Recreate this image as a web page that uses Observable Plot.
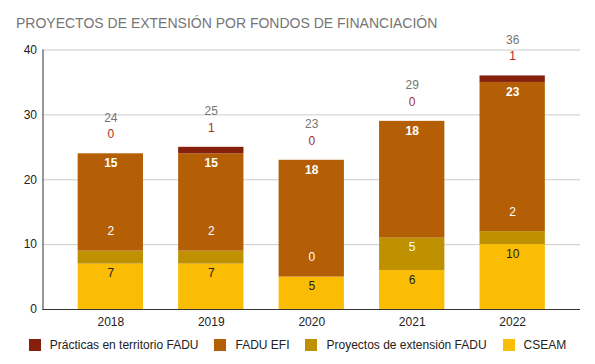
<!DOCTYPE html>
<html>
<head>
<meta charset="utf-8">
<script src="https://cdn.jsdelivr.net/npm/d3@7"></script>
<script src="https://cdn.jsdelivr.net/npm/@observablehq/plot@0.6"></script>
<style>
  body { margin: 0; background: #fff; font-family: "Liberation Sans", Arial, sans-serif; }
  #wrap { width: 595px; height: 364px; position: relative; overflow: hidden; }
  #title { position: absolute; left: 16px; top: 15px; line-height: 16px; font-size: 14px; color: #757575; white-space: nowrap; z-index: 2; }
  #chart { height: 336px; }
  #chart svg { display: block; }
  #legend { height: 18px; display: flex; justify-content: center; align-items: center; font-size: 12px; color: #222; }
  .item { display: flex; align-items: center; margin: 0 8px; }
  .sw { width: 12px; height: 12px; margin-right: 9px; }
</style>
</head>
<body>
<div id="wrap">
  <div id="title">PROYECTOS DE EXTENSIÓN POR FONDOS DE FINANCIACIÓN</div>
  <div id="chart"></div>
  <div id="legend"></div>
</div>
<script>
const years = ["2018", "2019", "2020", "2021", "2022"];
const seriesNames = ["CSEAM", "Proyectos de extensión FADU", "FADU EFI", "Prácticas en territorio FADU"];
const seriesColors = ["#fbbc04", "#bf9000", "#b45f06", "#85200c"];
const cseam = [7, 7, 5, 6, 10];
const proyectos = [2, 2, 0, 5, 2];
const efi = [15, 15, 18, 18, 23];
const practicas = [0, 1, 0, 0, 1];
const totals = [24, 25, 23, 29, 36];
const yTicks = [0, 10, 20, 30, 40];

const seriesValues = [cseam, proyectos, efi, practicas];
const rows = [];
years.forEach((yr, i) => {
  seriesNames.forEach((s, j) => rows.push({year: yr, series: s, value: seriesValues[j][i]}));
});
const totalRows = years.map((yr, i) => ({year: yr, total: totals[i]}));

const stackOpts = {x: "year", y: "value", z: "series", order: seriesNames};
const labelMark = (test, dy, fill, weight) =>
  Plot.text(rows, Plot.filter(test, Plot.stackY2({...stackOpts, text: d => String(d.value), dy, fill, fontWeight: weight})));

const chart = Plot.plot({
  width: 595,
  height: 336,
  marginTop: 49.5,
  marginBottom: 27,
  marginLeft: 42.5,
  marginRight: 15,
  style: {fontFamily: "'Liberation Sans', Arial, sans-serif", fontSize: "12px", color: "#222", background: "transparent"},
  x: {domain: years, padding: 0.35, round: false, label: null},
  y: {domain: [0, 40], ticks: yTicks, label: null},
  color: {domain: seriesNames, range: seriesColors},
  marks: [
    Plot.ruleY(yTicks.filter(t => t > 0), {stroke: "#cccccc"}),
    Plot.barY(rows, Plot.stackY({...stackOpts, fill: "series"})),
    Plot.ruleY([0], {stroke: "#333"}),
    Plot.frame({anchor: "left", stroke: "#333"}),
    Plot.axisY({ticks: yTicks, tickSize: 0, tickPadding: 6, fontSize: 12, label: null}),
    Plot.axisX({tickSize: 0, tickPadding: 8, fontSize: 12, label: null}),
    labelMark(d => d.series === "CSEAM", 9.5, "#222", "normal"),
    labelMark(d => d.series === "FADU EFI", 9.5, "#ffffff", "bold"),
    labelMark(d => d.series === "Proyectos de extensión FADU" && d.value >= 3, 9.5, "#ffffff", "normal"),
    labelMark(d => d.series === "Proyectos de extensión FADU" && d.value < 3, -19.5, "#ffffff", "normal"),
    labelMark(d => d.series === "Prácticas en territorio FADU", -19.5, "#a5301e", "normal"),
    Plot.text(totalRows, {x: "year", y: "total", text: d => String(d.total), dy: -36, fill: "#757575"})
  ]
});
document.getElementById("chart").appendChild(chart);

const legend = document.getElementById("legend");
[3, 2, 1, 0].forEach(j => {
  const it = document.createElement("div");
  it.className = "item";
  const sw = document.createElement("div");
  sw.className = "sw";
  sw.style.background = seriesColors[j];
  const tx = document.createElement("span");
  tx.textContent = seriesNames[j];
  it.appendChild(sw);
  it.appendChild(tx);
  legend.appendChild(it);
});
</script>
</body>
</html>
